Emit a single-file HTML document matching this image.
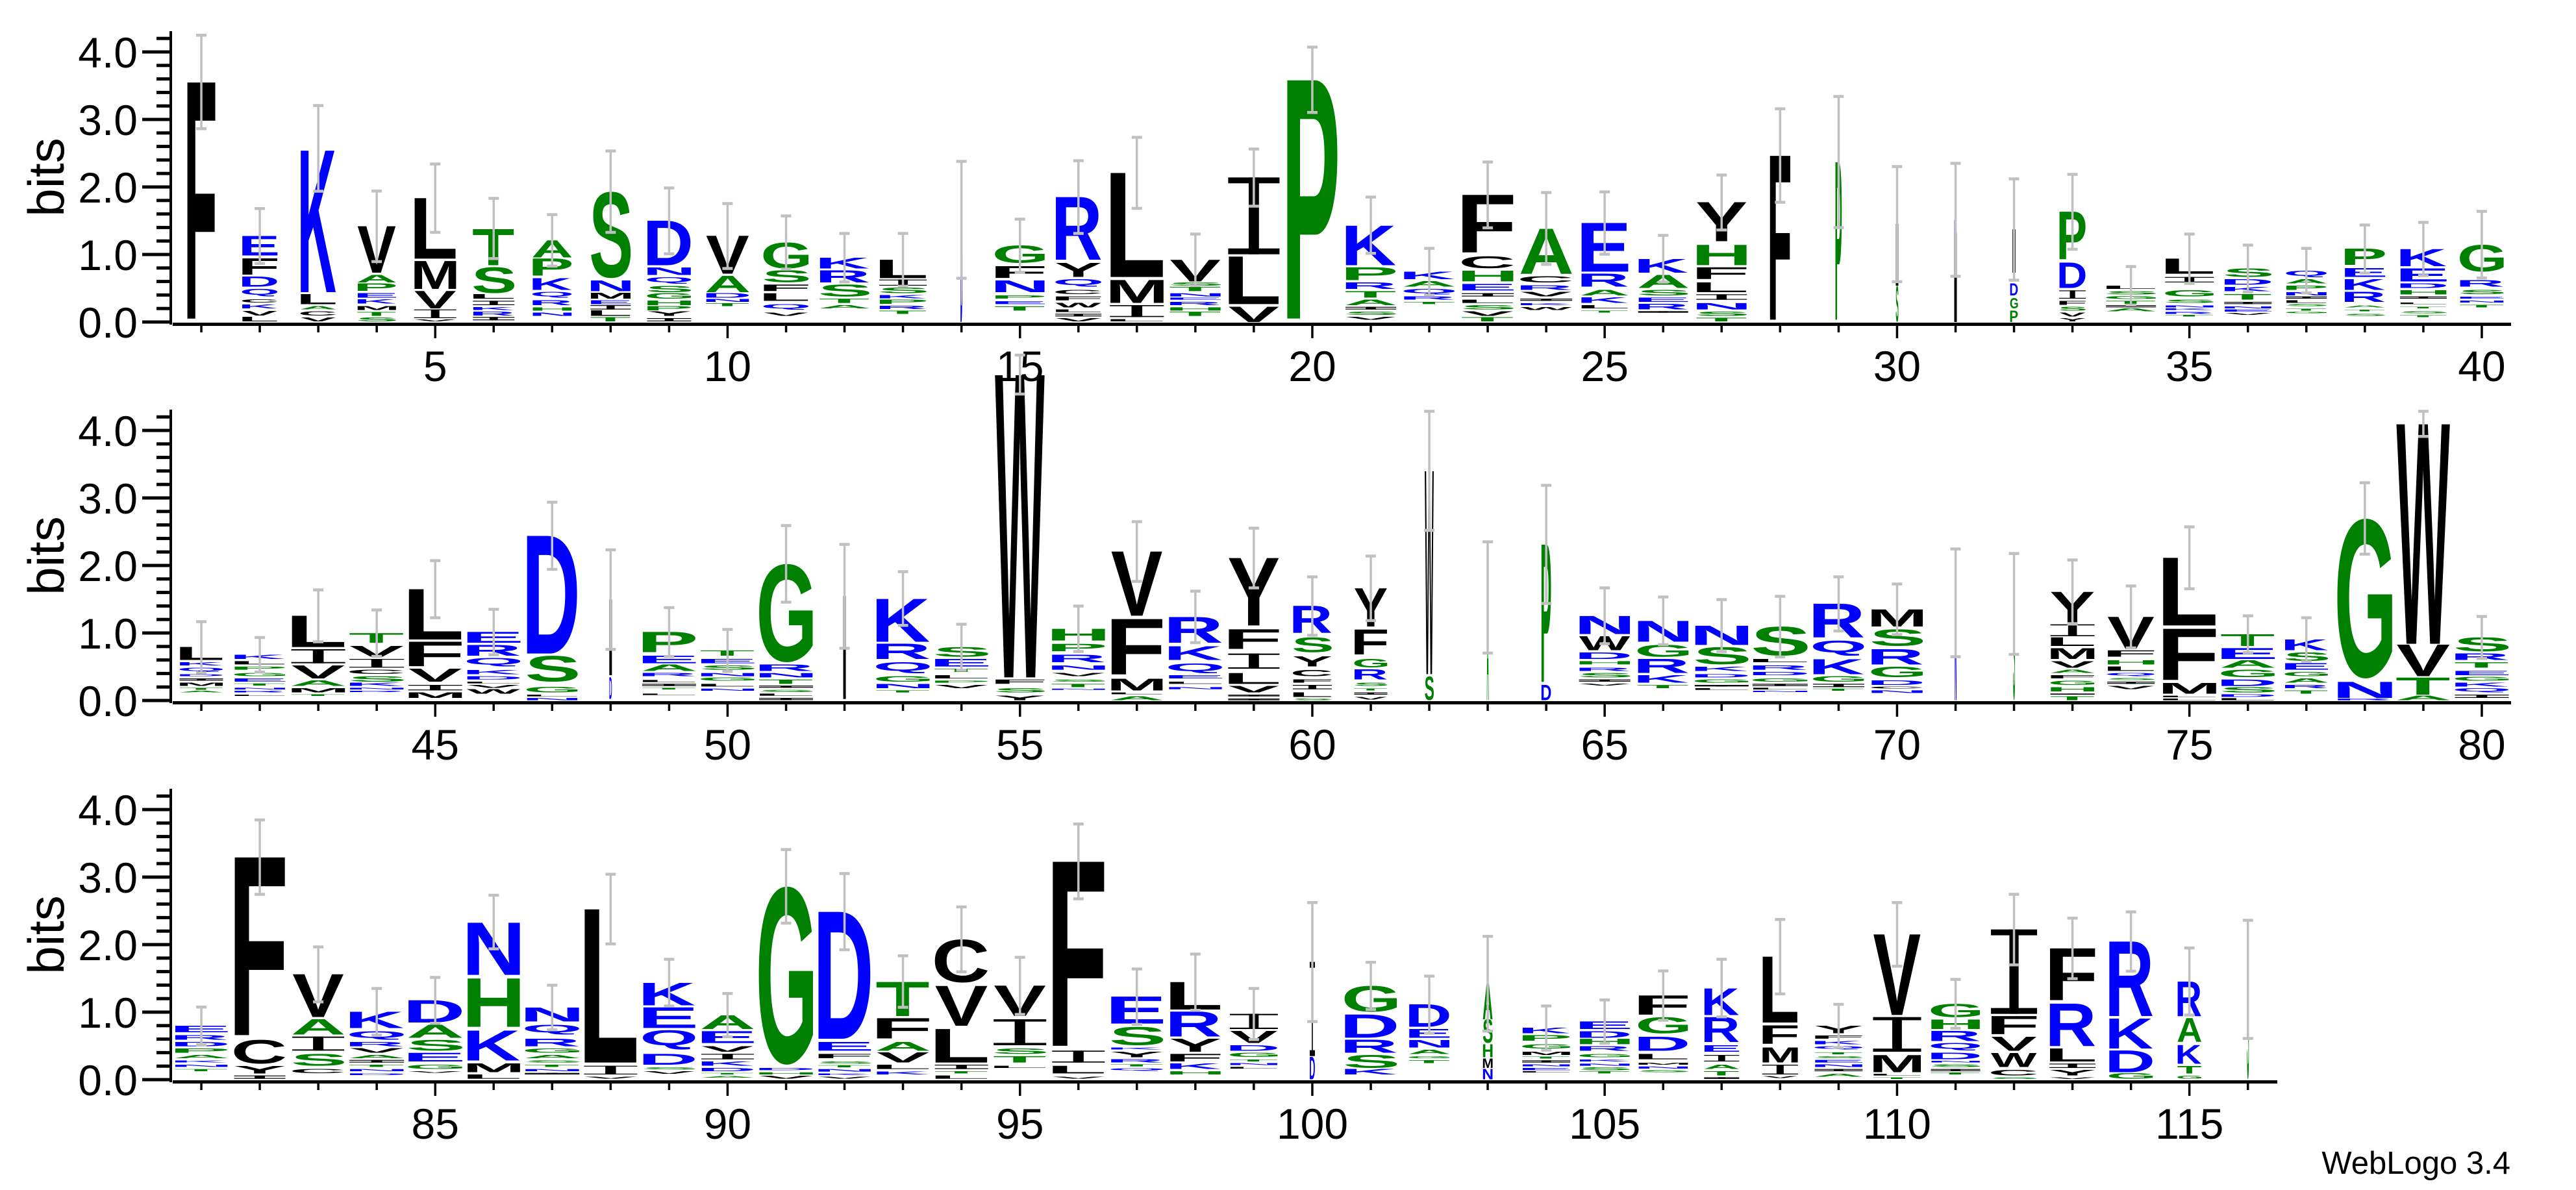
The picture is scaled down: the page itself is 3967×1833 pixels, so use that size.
<!DOCTYPE html>
<html><head><meta charset="utf-8">
<style>
html,body{margin:0;padding:0;background:#fff;}
svg{display:block;}
</style></head>
<body>
<svg id="s" xmlns="http://www.w3.org/2000/svg" width="3967" height="1833" viewBox="0 0 3967 1833"></svg>
<script>
const R1=`1|42|44|F:258-1368
2|843|55|E:970-1060,F:1075-1150,D:1160-1205,Q:1215-1250,C:1262-1278,K:1288-1305,V:1318-1338,L:1345-1365
3|367|55|K:565-1230,L:1240-1285,A:1295-1310,C:1318-1338,V:1348-1365
4|762|60|V:925-1140,A:1150-1185,P:1190-1225,E:1235-1255,K:1262-1282,M:1295-1312,T:1322-1340,S:1348-1365
5|637|65|L:795-1075,M:1085-1215,V:1225-1305,I:1310-1350,V:1355-1365
6|796|64|T:935-1105,S:1115-1235,L:1240-1260,I:1270-1290,K:1298-1312,R:1320-1338,I:1345-1360
7|871|61|A:990-1070,P:1075-1155,K:1165-1220,Q:1228-1255,R:1268-1290,H:1300-1315,N:1325-1340
8|577|62|S:765-1165,N:1175-1225,M:1232-1260,E:1268-1285,I:1290-1310,L:1315-1340,T:1345-1365
9|748|68|D:900-1105,N:1115-1150,Q:1160-1190,S:1200-1230,G:1235-1260,H:1268-1290,P:1295-1315,Y:1320-1340,I:1350-1365
10|820|67|V:970-1145,A:1155-1230,D:1235-1255,N:1262-1275,T:1282-1295
11|877|70|G:1000-1120,S:1130-1185,F:1195-1225,L:1235-1270,Q:1285-1310,V:1325-1340
12|958|77|K:1070-1120,R:1130-1185,S:1195-1250,T:1260-1280,A:1290-1305
13|958|73|L:1080-1165,I:1172-1200,S:1210-1235,K:1242-1258,P:1265-1285,R:1292-1308,T:1315-1330
14|625|3|D:895-1368
15|892|77|G:1015-1095,F:1110-1165,N:1175-1230,P:1245-1260,E:1272-1285,T:1295-1315
16|622|71|R:790-1080,Y:1095-1160,Q:1170-1205,C:1220-1240,F:1250-1268,W:1280-1300,L:1310-1322,I:1330-1342,V:1350-1365
17|514|83|L:678-1160,M:1172-1280,I:1290-1345,L:1355-1365
18|961|79|V:1080-1180,S:1185-1200,T:1205-1225,N:1235-1250,E:1255-1265,R:1275-1290,H:1300-1315,T:1320-1340
19|568|79|I:700-1055,L:1065-1285,V:1298-1368
20|97|79|P:248-1368
21|790|78|K:920-1105,P:1115-1175,R:1185-1215,T:1225-1255,A:1265-1290,I:1298-1310,S:1320-1335,V:1345-1358
22|1027|79|K:1135-1170,A:1180-1205,Q:1215-1240,R:1250-1265,T:1275-1285
23|628|80|F:780-1050,C:1065-1120,H:1130-1180,E:1192-1222,I:1235-1250,L:1265-1280,S:1290-1310,V:1320-1340,T:1345-1365
24|769|80|A:935-1145,C:1155-1185,R:1200-1220,V:1230-1250,I:1260-1270,K:1280-1290,W:1298-1312
25|766|73|E:910-1135,R:1145-1205,A:1220-1245,K:1255-1280,L:1290-1305,T:1315-1325
26|967|77|K:1075-1140,A:1150-1210,S:1220-1245,E:1255-1275,R:1285-1310,I:1318-1325
27|688|78|Y:815-995,H:1010-1105,F:1115-1170,L:1185-1230,I:1240-1265,N:1280-1310,S:1320-1340,T:1348-1365
28|382|32|F:598-1368
29|325|10|P:628-1368
30|649|4|I:915-1200,S:1200-1368
31|634|4|K:895-960,I:960-1368
32|706|5|I:940-1140,D:1190-1245:12,G:1255-1305:12,P:1315-1368:12
33|685|41|P:858-1080,D:1092-1210,I:1222-1260,F:1270-1288,S:1298-1315,V:1325-1342,Y:1350-1365
34|1111|77|L:1200-1215,S:1225-1240,G:1248-1262,T:1270-1285,I:1290-1300,A:1305-1318
35|961|75|L:1075-1145,I:1160-1185,G:1220-1250,S:1265-1280,N:1290-1300,K:1305-1312,R:1320-1330,T:1335-1342
36|1012|73|S:1120-1160,D:1170-1195,K:1205-1225,T:1240-1265,I:1275-1285,N:1295-1305,E:1310-1320,V:1325-1335
37|1027|63|Q:1130-1160,A:1170-1190,P:1200-1220,N:1230-1245,I:1250-1260,L:1268-1280,S:1285-1295,T:1305-1315,G:1320-1328
38|919|63|P:1030-1105,E:1120-1160,K:1170-1220,R:1230-1275,A:1290-1300,T:1310-1318,S:1330-1340
39|907|72|K:1030-1110,E:1120-1180,D:1190-1210,H:1220-1240,I:1250-1260,L:1278-1285,T:1298-1305,S:1318-1328,T:1335-1345
40|856|68|G:1010-1135,R:1175-1205,S:1220-1240,E:1250-1260,N:1268-1278,T:1288-1300`;
const R2=`41|1012|67|L:1130-1190,K:1200-1215,Q:1225-1245,D:1255-1265,I:1275-1285,M:1295-1310,T:1318-1328,A:1332-1340
42|1085|79|K:1165-1185,L:1195-1210,P:1220-1235,G:1250-1265,E:1275-1290,T:1298-1308,N:1318-1326,R:1333-1340,L:1350-1356
43|865|83|L:985-1130,I:1140-1205,V:1215-1275,A:1285-1310,M:1320-1340,T:1348-1356
44|958|84|T:1065-1110,V:1125-1175,I:1185-1225,C:1235-1255,S:1265-1290,K:1295-1310,N:1318-1326,R:1332-1338
45|730|83|L:862-1095,F:1105-1220,V:1230-1290,I:1305-1330,M:1340-1365
46|955|83|E:1060-1110,R:1120-1170,Q:1180-1220,K:1235-1255,D:1265-1280,L:1290-1298,V:1305-1318,W:1325-1345
47|460|79|D:615-1160,S:1170-1290,G:1315-1340,L:1350-1358,N:1365-1376
48|680|4|I:910-1260,D:1270-1370
49|947|83|P:1060-1155,E:1170-1205,A:1210-1240,R:1250-1265,L:1282-1292,I:1300-1310,T:1318-1326,L:1345-1352
50|1048|83|T:1145-1170,E:1185-1205,S:1215-1235,N:1250-1265,G:1270-1285,L:1300-1312,N:1322-1332
51|568|83|G:745-1200,R:1210-1240,N:1250-1270,T:1280-1300,I:1308-1318,S:1328-1338,L:1345-1355,I:1365-1375
52|655|4|I:895-1370
53|781|83|K:905-1105,R:1115-1185,Q:1200-1250,G:1265-1290,N:1300-1320,T:1330-1340
54|1024|83|S:1130-1175,E:1185-1220,T:1230-1245,L:1260-1275,P:1285-1295,V:1305-1320
55|-220|77|W:-130-1270,F:1280-1300,S:1320-1340,Y:1355-1375
56|940|83|H:1045-1100,P:1115-1150,R:1165-1200,N:1215-1235,V:1250-1265,S:1280-1290,T:1300-1315,N:1322-1328
57|550|80|V:688-985,F:1000-1260,M:1275-1330,L:1340-1348,A:1358-1376
58|871|83|R:990-1110,K:1125-1190,Q:1205-1250,E:1260-1275,L:1290-1300,N:1315-1325
59|580|79|Y:718-1030,F:1048-1140,I:1160-1230,L:1250-1300,V:1310-1340,I:1350-1358,I:1368-1376
60|805|60|R:940-1065,S:1085-1155,Y:1175-1220,C:1235-1265,F:1280-1295,I:1305-1325,L:1340-1360,S:1368-1376
61|709|51|Y:858-1035,F:1048-1165,G:1185-1225,R:1235-1280,S:1295-1310,T:1320-1330,I:1340-1350,V:1360-1372
62|40|14|W:315-1255,S:1265-1375
63|643|3|A:900-1376
64|382|15|P:655-1300,D:1305-1376
65|856|79|N:985-1070,W:1080-1145,D:1155-1185,H:1195-1210,R:1225-1240,S:1250-1270,I:1280-1290,V:1298-1308
66|898|79|N:1008-1105,G:1120-1175,R:1185-1250,K:1260-1295,T:1305-1320
67|910|83|N:1030-1120,S:1130-1210,K:1220-1240,D:1255-1270,G:1280-1295,I:1305-1312,L:1320-1328
68|895|85|S:1035-1170,L:1185-1200,R:1215-1235,D:1245-1260,G:1275-1290,I:1300-1310,L:1318-1326,N:1332-1338
69|805|79|R:930-1085,Q:1100-1170,K:1185-1255,G:1265-1290,I:1300-1315,T:1322-1332
70|838|80|M:955-1035,S:1048-1125,R:1140-1210,G:1220-1270,D:1285-1305,C:1312-1322,N:1330-1342
71|676|3|N:925-1376
72|697|3|S:930-1376
73|727|68|Y:875-1015,I:1025-1080,L:1085-1125,M:1135-1185,V:1195-1225,A:1235-1250,F:1260-1275,G:1285-1305,H:1315-1335,I:1345-1350,T:1358-1376
74|847|73|V:990-1140,F:1145-1175,H:1190-1210,L:1220-1240,Q:1250-1265,S:1272-1282,I:1290-1300,V:1310-1325
75|574|83|L:717-1030,F:1045-1285,M:1295-1345,L:1355-1362,L:1368-1376
76|985|83|T:1070-1125,E:1135-1185,A:1190-1225,G:1235-1270,D:1280-1310,S:1315-1340,D:1348-1360,L:1366-1376
77|994|67|K:1095-1145,S:1155-1195,E:1205-1235,G:1245-1265,A:1275-1295,R:1305-1320,T:1330-1345
78|370|85|G:535-1275,N:1290-1365,R:1368-1376
79|40|83|W:98-1115,V:1120-1265,T:1270-1350,A:1355-1376
80|988|83|S:1085-1150,R:1160-1190,T:1200-1225,E:1240-1260,G:1268-1285,K:1295-1312,Q:1320-1340,I:1350-1365`;
const R3=`81|1053|82|E:1140-1170,R:1185-1205,D:1215-1235,P:1245-1265,A:1275-1290,K:1300-1310,N:1320-1330,T:1340-1350
82|188|79|F:360-1195,C:1205-1315,Y:1325-1360,I:1370-1385
83|775|80|V:902-1100,A:1108-1180,I:1190-1255,S:1270-1325,C:1340-1360
84|967|84|K:1075-1150,Q:1165-1205,R:1215-1235,V:1245-1265,A:1275-1290,I:1298-1310,T:1320-1330,N:1340-1350,D:1360-1368
85|916|84|D:1022-1125,A:1135-1195,S:1205-1255,E:1265-1305,G:1320-1340,V:1350-1358
86|536|82|N:660-905,H:918-1145,K:1160-1300,M:1315-1355,L:1365-1385
87|952|84|N:1055-1120,Q:1135-1180,R:1200-1235,G:1245-1265,A:1275-1290,S:1300-1310,T:1320-1330,N:1340-1350,I:1358-1365
88|439|82|L:600-1310,I:1325-1365,V:1375-1385
89|832|81|K:940-1045,E:1055-1150,Q:1160-1250,D:1270-1320,S:1332-1342,V:1350-1362
90|990|81|A:1090-1155,E:1165-1220,V:1235-1260,I:1270-1295,K:1305-1325,D:1335-1350,T:1358-1365,A:1372-1380
91|325|84|G:495-1320,D:1335-1345,H:1355-1365,V:1372-1385
92|436|82|D:612-1200,E:1215-1255,F:1270-1290,S:1305-1315,T:1322-1332,N:1340-1352,K:1360-1368,V:1375-1385
93|816|82|T:935-1095,F:1105-1200,A:1215-1255,V:1265-1310,L:1320-1340,K:1352-1365
94|590|82|C:740-940,V:955-1140,L:1155-1310,I:1320-1340,T:1350-1360,L:1370-1385
95|823|81|V:955-1095,I:1110-1230,S:1245-1270,T:1280-1310,L:1325-1335
96|207|81|F:380-1245,I:1255-1310,L:1325-1360,V:1375-1385
97|877|81|E:1005-1130,S:1145-1230,K:1240-1250,Y:1260-1285,R:1295-1310,T:1318-1328,Q:1335-1348
98|808|79|L:938-1065,R:1075-1190,Y:1200-1260,F:1270-1305,K:1315-1340,H:1350-1365
99|967|74|I:1085-1155,V:1165-1220,D:1230-1255,G:1265-1285,T:1295-1305,N:1312-1322,L:1330-1338
100|570|8|I:845-1280,D:1285-1388
101|846|81|G:955-1075,D:1088-1195,R:1205-1265,S:1275-1335,K:1340-1365
102|910|63|D:1042-1145,E:1155-1195,N:1205-1240,A:1250-1270,G:1280-1290,T:1298-1312
103|726|15|A:945-1110,S:1110-1220,H:1225-1285,M:1290-1335,N:1340-1388
104|1048|74|K:1150-1175,P:1185-1210,G:1225-1245,M:1260-1275,T:1282-1292,I:1300-1310,N:1318-1328,E:1335-1345,L:1350-1356
105|1020|78|E:1120-1155,D:1165-1195,H:1200-1225,R:1235-1255,G:1270-1285,K:1295-1305,N:1315-1325,S:1332-1345,T:1350-1360
106|886|77|F:1000-1090,G:1100-1175,D:1190-1255,L:1270-1295,M:1310-1320,N:1328-1338,S:1345-1355
107|832|54|K:965-1090,R:1100-1215,E:1230-1260,I:1275-1305,A:1320-1340,T:1350-1370,I:1378-1386
108|648|55|L:820-1125,F:1140-1225,M:1240-1310,I:1320-1365,V:1372-1382
109|1040|74|Y:1140-1175,F:1185-1200,K:1210-1225,Q:1235-1250,T:1262-1272,S:1280-1290,E:1298-1310,N:1318-1330,I:1340-1350,A:1362-1375
110|570|74|V:717-1090,I:1100-1260,M:1275-1355,L:1362-1370,T:1378-1386
111|925|76|G:1038-1100,H:1110-1155,R:1165-1210,Q:1220-1255,D:1265-1295,N:1302-1310,S:1318-1330,I:1340-1350,T:1355-1365
112|532|71|I:695-1085,F:1095-1180,V:1190-1255,W:1265-1330,C:1345-1370,S:1378-1386
113|642|71|F:782-1025,R:1040-1235,L:1245-1305,I:1315-1335,Y:1345-1370,V:1378-1386
114|613|68|R:750-1095,K:1105-1245,D:1255-1355,G:1360-1385
115|780|37|R:935-1095,A:1105-1215,K:1228-1315,T:1325-1360,G:1372-1385
116|652|3|S:925-1388`;

const rows=[{d:R1,y0:40,base:496,end:3867,first:1,last:40},
            {d:R2,y0:620,base:1079,end:3867,first:41,last:80},
            {d:R3,y0:1200,base:1663,end:3507,first:81,last:116}];
const X0=310, STEP=90.05, BIT=104;
function col(c){ if("AGSTPH".indexOf(c)>=0) return "#008000"; if("KRDENQ".indexOf(c)>=0) return "#0000FF"; return "#000000"; }
const ctx=document.createElement('canvas').getContext('2d');
ctx.font='bold 100px "Liberation Sans", sans-serif';
const mc={};
function met(c){
  if(mc[c]) return mc[c];
  let m=null;
  try{ const t=ctx.measureText(c);
    m={L:t.actualBoundingBoxLeft,R:t.actualBoundingBoxRight,A:t.actualBoundingBoxAscent,D:t.actualBoundingBoxDescent};
    if(!(m.L+m.R>5&&m.A+m.D>20)) m=null;}catch(e){m=null;}
  if(!m){ m={L:-5,R:68,A:72,D:(c=="Q"?6:0)}; if("GOSC".indexOf(c)>=0){m.A=74;m.D=1.5;} }
  mc[c]=m; return m;
}
let out=[];
function letter(c,cx,w,top,bot){
  const h=bot-top; if(h<=0.3) return;
  const fill=col(c);
  if(c==="I"){
    const sw=Math.max(1,w*0.2), sh=Math.max(1.2,Math.min(h*0.09,9));
    if(w<8){ out.push(`<rect x="${cx-w/2}" y="${top}" width="${w}" height="${h}" fill="${fill}"/>`); return;}
    out.push(`<rect x="${cx-w/2}" y="${top}" width="${w}" height="${sh}" fill="${fill}"/>`);
    out.push(`<rect x="${cx-w/2}" y="${bot-sh}" width="${w}" height="${sh}" fill="${fill}"/>`);
    out.push(`<rect x="${cx-sw/2}" y="${top}" width="${sw}" height="${h}" fill="${fill}"/>`);
    return;
  }
  const m=met(c);
  const sx=w/(m.L+m.R), sy=h/(m.A+m.D);
  const tx=cx-w/2+m.L*sx, ty=bot-m.D*sy;
  out.push(`<text transform="translate(${tx.toFixed(2)},${ty.toFixed(2)}) scale(${sx.toFixed(4)},${sy.toFixed(4)})" font-family="Liberation Sans, sans-serif" font-weight="bold" font-size="100" fill="${fill}">${c}</text>`);
}
const bars=[];
rows.forEach((r,ri)=>{
  const B=r.base;
  // y axis
  out.push(`<rect x="261" y="${B-448}" width="4" height="${452}" fill="#000"/>`);
  for(let i=0;i<=21;i++){
    const y=B-i*0.2*BIT;
    const maj=(i%5===0);
    out.push(`<rect x="${maj?219:241}" y="${(y-2.5).toFixed(1)}" width="${maj?44:22}" height="5" fill="#000"/>`);
    if(maj){ out.push(`<text x="212" y="${(y+24).toFixed(1)}" text-anchor="end" font-family="Liberation Sans, sans-serif" font-size="66" fill="#000">${(i/5).toFixed(1)}</text>`); }
  }
  out.push(`<text transform="translate(98,${B-223}) rotate(-90)" text-anchor="middle" font-family="Liberation Sans, sans-serif" font-size="78" fill="#000">bits</text>`);
  // x axis
  out.push(`<rect x="266" y="${B+1}" width="${r.end-266}" height="5" fill="#000"/>`);
  for(let p=r.first;p<=r.last;p++){
    const cx=X0+(p-r.first)*STEP;
    const maj=(p%5===0);
    out.push(`<rect x="${(cx-1.75).toFixed(1)}" y="${B+6}" width="3.5" height="${maj?19:10}" fill="#000"/>`);
    if(maj) out.push(`<text x="${cx.toFixed(1)}" y="${B+91}" text-anchor="middle" font-family="Liberation Sans, sans-serif" font-size="66" fill="#000">${p}</text>`);
  }
  // stacks
  r.d.trim().split("\n").forEach(line=>{
    const parts=line.trim().split("|");
    const p=+parts[0], cap=+parts[1], w=+parts[2];
    const cx=X0+(p-r.first)*STEP;
    let stackTop=1e9;
    parts[3].split(",").forEach(s=>{
      const m=s.match(/^([A-Z]):(-?\d+)-(\d+)(?::(\d+))?$/);
      if(!m) return;
      const t=+m[2], b=+m[3], lw=m[4]?+m[4]:w;
      stackTop=Math.min(stackTop,t);
      letter(m[1],cx,lw,r.y0+t/3,r.y0+b/3);
    });
    const d=stackTop-cap;
    const yt=r.y0+cap/3, yb=r.y0+(stackTop+d)/3;
    bars.push(`<rect x="${(cx-1.75).toFixed(1)}" y="${yt.toFixed(1)}" width="3.5" height="${(yb-yt).toFixed(1)}" fill="#c0c0c0"/>`);
    bars.push(`<rect x="${(cx-8).toFixed(1)}" y="${(yt-2).toFixed(1)}" width="16" height="4.5" fill="#c0c0c0"/>`);
    bars.push(`<rect x="${(cx-8).toFixed(1)}" y="${(yb-2).toFixed(1)}" width="16" height="4.5" fill="#c0c0c0"/>`);
  });
});
out=out.concat(bars);
out.push(`<text x="3866" y="1808" text-anchor="end" font-family="Liberation Sans, sans-serif" font-size="49" fill="#000">WebLogo 3.4</text>`);
document.getElementById('s').innerHTML=out.join("");
</script>
</body></html>
